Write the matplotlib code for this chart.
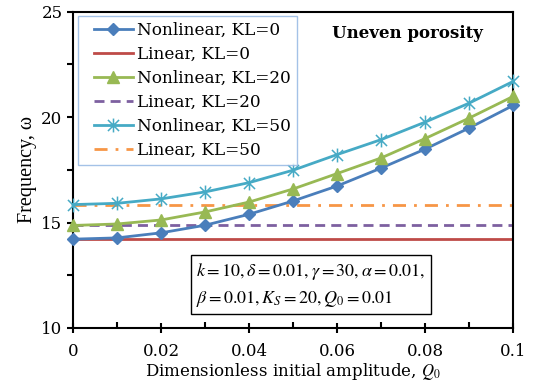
import numpy as np
import matplotlib
matplotlib.use('Agg')
import matplotlib.pyplot as plt
from matplotlib.path import Path
from matplotlib.lines import Line2D
from matplotlib.legend_handler import HandlerLine2D

# data
q0 = [0, 0.01, 0.02, 0.03, 0.04, 0.05, 0.06, 0.07, 0.08, 0.09, 0.1]
nl_kl0 = [14.21, 14.27, 14.51, 14.87, 15.39, 16.02, 16.73, 17.58, 18.48, 19.48, 20.55]
nl_kl20 = [14.86, 14.93, 15.12, 15.50, 15.97, 16.59, 17.32, 18.06, 18.98, 19.95, 20.98]
nl_kl50 = [15.85, 15.91, 16.12, 16.45, 16.89, 17.48, 18.22, 18.93, 19.76, 20.66, 21.69]
lin_kl0 = 14.21
lin_kl20 = 14.87
lin_kl50 = 15.84

plt.rcParams['font.family'] = ['DejaVu Serif']
plt.rcParams['mathtext.fontset'] = 'stix'

# excel-like star marker: an x with a vertical bar through it
star = Path([(-1, -1), (1, 1), (-1, 1), (1, -1), (0, -1.25), (0, 1.25)],
            [Path.MOVETO, Path.LINETO, Path.MOVETO, Path.LINETO, Path.MOVETO, Path.LINETO])

fig = plt.figure(figsize=(5.35, 3.89), dpi=100)
ax = fig.add_axes([0.1364, 0.157, 0.8226, 0.813])

x = np.array(q0)
ax.plot(x, nl_kl0, color='#4A7EBB', lw=2, marker='D', ms=6, clip_on=False, zorder=5,
        label='Nonlinear, KL=0')
ax.plot(x, np.full(len(x), lin_kl0), color='#BE4B48', lw=2, label='Linear, KL=0')
ax.plot(x, nl_kl20, color='#98B954', lw=2, marker='^', ms=8, clip_on=False, zorder=5,
        label='Nonlinear, KL=20')
ax.plot(x, np.full(len(x), lin_kl20), color='#7D60A0', lw=2, ls=(0, (3.6, 2.2)), label='Linear, KL=20')
ax.plot(x, nl_kl50, color='#46AAC5', lw=2, marker=star, ms=10, mew=1.1, mfc='none',
        clip_on=False, zorder=5, label='Nonlinear, KL=50')
ax.plot(x, np.full(len(x), lin_kl50), color='#F79646', lw=2, ls=(0, (4.7, 2.9, 1, 2.9)),
        label='Linear, KL=50')

ax.set_xlim(0, 0.1)
ax.set_ylim(10, 25)
ax.set_xticks([0, 0.02, 0.04, 0.06, 0.08, 0.1])
ax.set_xticklabels(['0', '0.02', '0.04', '0.06', '0.08', '0.1'])
ax.set_xticks(np.arange(0.01, 0.1, 0.02), minor=True)
ax.set_yticks([10, 15, 20, 25])
ax.set_yticks([12.5, 17.5, 22.5], minor=True)
ax.tick_params(axis='x', which='major', direction='inout', length=7, width=1.5, labelsize=12, pad=7)
ax.tick_params(axis='x', which='minor', direction='in', length=4, width=1.5)
ax.tick_params(axis='y', which='major', direction='out', length=4, width=1.5, labelsize=12)
ax.tick_params(axis='y', which='minor', direction='out', length=4, width=1.5)
for s in ax.spines.values():
    s.set_linewidth(1.5)
    s.set_color('black')

ax.set_xlabel('Dimensionless initial amplitude, $Q_0$', fontsize=12, labelpad=1)
ax.set_ylabel('Frequency, ω', fontsize=14.5, family='Liberation Serif', labelpad=3)

leg = ax.legend(loc='upper left', bbox_to_anchor=(0.011, 0.987), fontsize=12.2, frameon=True,
                fancybox=False, handlelength=2.9, handletextpad=0.25, labelspacing=0.42,
                borderpad=0.35, borderaxespad=0,
                handler_map={Line2D: HandlerLine2D(xpad=0.6)})
leg.get_frame().set_edgecolor('#8DB3E2')
leg.get_frame().set_linewidth(1)

ax.text(0.759, 0.93, 'Uneven porosity', transform=ax.transAxes, ha='center', va='center',
        fontsize=12, fontweight='bold')

ax.text(0.541, 0.137,
        '$k=10,\\delta=0.01,\\gamma=30,\\alpha=0.01,$\n$\\beta=0.01,K_S=20,Q_0=0.01$',
        transform=ax.transAxes, ha='center', va='center', multialignment='left',
        fontsize=13, linespacing=1.5,
        bbox=dict(boxstyle='square,pad=0.3', fc='white', ec='black', lw=1))

fig.savefig('out.png', dpi=100)
